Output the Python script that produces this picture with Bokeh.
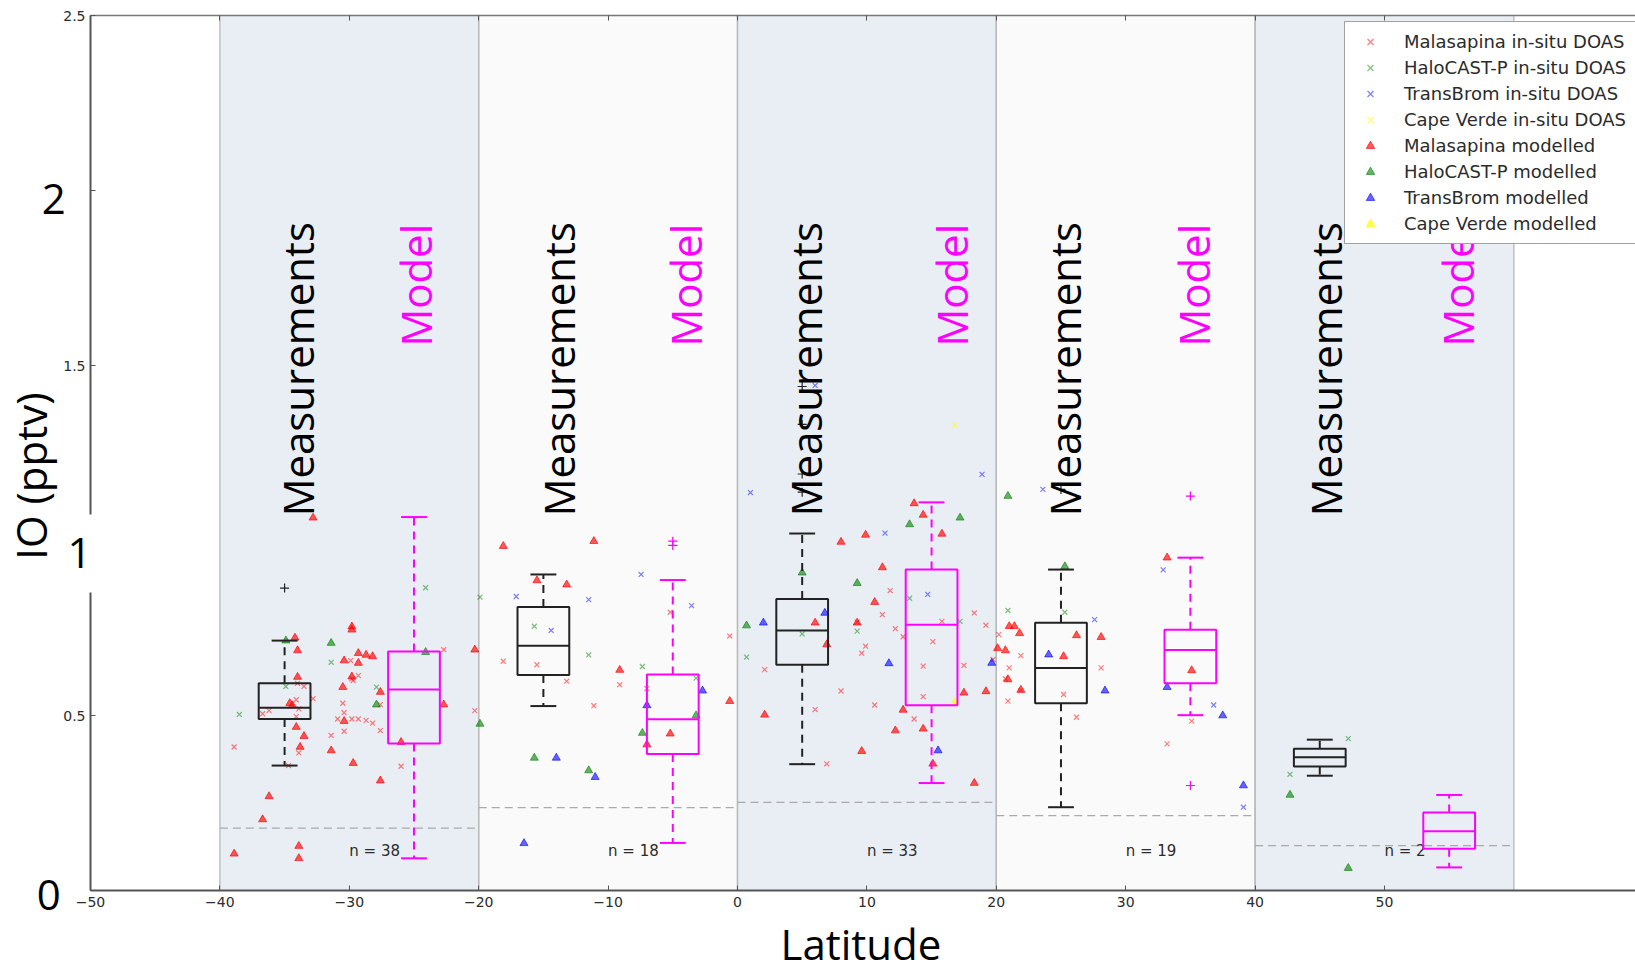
import math
from bokeh.plotting import figure
from bokeh.models import Range1d, LinearAxis, FixedTicker, Label, Legend, LegendItem
from bokeh.embed import file_html
from bokeh.resources import INLINE
from bokeh.core.properties import value

# ---------------- data ----------------
band_left = [-40, -20, 0, 20, 40]
band_right = [-20, 0, 20, 40, 60]
band_colors = ["#e9eef5", "#fafafa", "#e9eef5", "#fafafa", "#e9eef5"]
background_level = [0.178, 0.237, 0.252, 0.214, 0.128]
n_counts = [38, 18, 33, 19, 2]

x_ticks = [-50, -40, -30, -20, -10, 0, 10, 20, 30, 40, 50]
x_tick_labels = ["\u221250", "\u221240", "\u221230", "\u221220", "\u221210", "0", "10", "20", "30", "40", "50"]
y_label_ticks = [0.5, 1.5, 2.5]
y_minor_ticks = [0, 1, 2]

# measurement box plots
meas_pos = [-35, -15, 5, 25, 45]
meas_whislo = [0.357, 0.527, 0.361, 0.238, 0.328]
meas_q1 = [0.490, 0.616, 0.645, 0.535, 0.354]
meas_med = [0.522, 0.699, 0.743, 0.636, 0.381]
meas_q3 = [0.592, 0.810, 0.833, 0.765, 0.405]
meas_whishi = [0.714, 0.903, 1.020, 0.917, 0.431]
meas_flier_x = [-35, 5, 5, 5, 5, 25]
meas_flier_y = [0.864, 1.440, 1.332, 1.190, 1.138, 1.146]

# model box plots
model_pos = [-25, -5, 15, 35, 55]
model_whislo = [0.092, 0.136, 0.307, 0.501, 0.066]
model_q1 = [0.420, 0.390, 0.529, 0.592, 0.119]
model_med = [0.574, 0.489, 0.759, 0.687, 0.169]
model_q3 = [0.683, 0.617, 0.917, 0.745, 0.223]
model_whishi = [1.067, 0.887, 1.109, 0.951, 0.273]
model_flier_x = [-5, -5, 35, 35]
model_flier_y = [0.998, 0.986, 1.127, 0.300]

# Malaspina in-situ DOAS (red x)
mal_meas_x = [-38.9, -36.7, -36.2, -34.1, -33.9, -33.5, -34.0, -32.8, -34.1, -33.9,
              -34.7, -31.4, -30.5, -30.4, -30.9, -30.4, -29.9, -29.7, -29.3, -29.8,
              -29.3, -28.7, -28.2, -27.6, -27.6, -26.0, -22.7, -20.3, -29.8,
              -18.1, -15.5, -13.2, -11.1, -9.1, -7.0, -5.2, -0.6,
              2.1, 6.0, 6.9, 8.0, 9.25, 9.6, 9.9, 10.6, 11.2, 11.8, 12.2, 12.8, 13.65,
              14.35, 14.35, 15.1, 15.8, 17.5, 18.3, 19.2, 20.2,
              19.75, 21.0, 20.7, 21.9, 20.9, 21.9, 25.2, 26.2, 28.1, 33.2, 35.1]
mal_meas_y = [0.410, 0.505, 0.514, 0.545, 0.519, 0.583, 0.592, 0.548, 0.497, 0.393,
              0.357, 0.443, 0.535, 0.508, 0.490, 0.455, 0.657, 0.600, 0.614, 0.490,
              0.490, 0.486, 0.478, 0.457, 0.531, 0.355, 0.688, 0.514, 0.605,
              0.655, 0.645, 0.598, 0.528, 0.588, 0.577, 0.795, 0.727,
              0.631, 0.517, 0.362, 0.570, 0.767, 0.678, 0.698, 0.530, 0.788, 0.857, 0.748, 0.725, 0.490,
              0.641, 0.554, 0.711, 0.769, 0.643, 0.793, 0.758, 0.731,
              0.660, 0.636, 0.605, 0.671, 0.541, 0.571, 0.560, 0.495, 0.636, 0.419, 0.484]

# Malaspina modelled (red triangles)
mal_mod_x = [-32.8, -34.2, -34.0, -34.0, -34.6, -34.4, -34.1, -33.5, -33.8, -36.2,
             -36.7, -31.4, -30.5, -30.4, -29.8, -29.8, -29.3, -29.3, -28.7, -28.2,
             -29.8, -30.4, -29.7, -27.6, -27.6, -26.0, -22.7, -20.3, -38.9, -33.9, -33.9,
             -18.1, -11.1, -15.5, -13.2, -9.1, -5.2, -7.0, -0.6,
             2.1, 6.0, 6.9, 8.0, 9.25, 9.6, 9.9, 10.6, 11.2, 12.2, 12.8, 13.65, 14.35,
             14.35, 15.1, 15.8, 17.5, 18.3, 19.2,
             21.0, 21.4, 21.8, 20.1, 20.7, 20.9, 21.9, 26.2, 25.2, 28.1, 33.2, 35.1]
mal_mod_y = [1.065, 0.722, 0.686, 0.610, 0.535, 0.529, 0.467, 0.441, 0.410, 0.269,
             0.203, 0.400, 0.581, 0.657, 0.754, 0.745, 0.678, 0.650, 0.673, 0.669,
             0.611, 0.484, 0.364, 0.567, 0.314, 0.424, 0.531, 0.688, 0.105, 0.127, 0.092,
             0.984, 0.998, 0.886, 0.874, 0.630, 0.448, 0.417, 0.541,
             0.502, 0.765, 0.703, 0.996, 0.765, 0.398, 1.016, 0.824, 0.923, 0.457, 0.516, 1.106, 1.073,
             0.462, 0.362, 1.019, 0.565, 0.307, 0.569,
             0.755, 0.755, 0.735, 0.692, 0.686, 0.603, 0.573, 0.729, 0.669, 0.724, 0.951, 0.629]

# HaloCAST-P
halo_meas_x = [-38.5, -34.9, -31.4, -27.9, -24.1, -19.9, -15.7, -11.5, -7.35, -3.2,
               0.7, 5.0, 9.25, 13.3, 17.2, 20.9, 25.3, 42.7, 47.2]
halo_meas_y = [0.503, 0.583, 0.652, 0.581, 0.865, 0.838, 0.755, 0.673, 0.640, 0.607,
               0.667, 0.733, 0.741, 0.835, 0.769, 0.800, 0.795, 0.332, 0.434]
halo_mod_x = [-34.9, -31.4, -27.9, -24.1, -19.9, -15.7, -11.5, -7.35, -3.2,
              0.7, 5.0, 9.25, 13.3, 17.2, 20.9, 25.3, 42.7, 47.2]
halo_mod_y = [0.714, 0.707, 0.531, 0.681, 0.476, 0.379, 0.343, 0.450, 0.500,
              0.757, 0.908, 0.878, 1.046, 1.065, 1.127, 0.926, 0.273, 0.064]

# TransBrom
tb_meas_x = [-17.1, -14.4, -11.5, -7.45, -3.55, 1.0, 6.0, 11.4, 14.7, 18.9, 23.6, 27.6, 32.9, 36.8, 39.1]
tb_meas_y = [0.840, 0.743, 0.831, 0.903, 0.814, 1.137, 1.443, 1.021, 0.846, 1.189, 1.146, 0.774, 0.916, 0.530, 0.238]
tb_mod_x = [-16.5, -14.0, -11.0, -7.0, -2.7, 2.0, 6.75, 11.7, 15.5, 19.65, 24.05, 28.4, 33.2, 37.5, 39.1]
tb_mod_y = [0.135, 0.379, 0.324, 0.529, 0.571, 0.765, 0.793, 0.649, 0.400, 0.650, 0.674, 0.571, 0.581, 0.500, 0.300]

# Cape Verde
cv_meas_x = [16.8]
cv_meas_y = [1.33]
cv_mod_x = [16.8]
cv_mod_y = [0.538]

# overlay label anchor positions (annotations)
meas_label_x = [-34.02, -13.86, 5.29, 25.31, 45.44]
model_label_x = [-24.88, -3.98, 16.56, 35.25, 55.64]

# ---------------- figure ----------------
# the frame fills the whole canvas; axes are pinned with fixed_location
p = figure(width=1635, height=973, x_range=Range1d(-56.955, 69.40), y_range=Range1d(-0.2371, 2.5429),
           output_backend="svg", toolbar_location=None,
           min_border_left=0, min_border_right=0, min_border_top=0, min_border_bottom=0,
           background_fill_color="white", border_fill_color="white", outline_line_color=None)
p.grid.visible = False

AX = "#555555"
TXT = "#2b2b2b"

xa = p.xaxis[0]
xa.fixed_location = 0
xa.bounds = (-50, 69.4)
xa.ticker = FixedTicker(ticks=x_ticks)
xa.major_label_overrides = {t: s for t, s in zip(x_ticks, x_tick_labels)}
xa.axis_line_color = AX
xa.axis_line_width = 2
xa.major_tick_in = 5
xa.major_tick_out = 0
xa.major_tick_line_color = AX
xa.minor_tick_line_color = None
xa.major_label_text_font = "DejaVu Sans"
xa.major_label_text_font_size = "14px"
xa.major_label_text_color = TXT
xa.major_label_standoff = 6

ya = p.yaxis[0]
ya.fixed_location = -50
ya.bounds = (0, 2.5)
ya.ticker = FixedTicker(ticks=y_label_ticks, minor_ticks=y_minor_ticks)
ya.axis_line_color = AX
ya.axis_line_width = 2
ya.major_tick_in = 5
ya.major_tick_out = 0
ya.minor_tick_in = 5
ya.minor_tick_out = 0
ya.major_tick_line_color = AX
ya.minor_tick_line_color = AX
ya.major_label_text_font = "DejaVu Sans"
ya.major_label_text_font_size = "14px"
ya.major_label_text_color = TXT
ya.major_label_standoff = 5

top_axis = LinearAxis(ticker=FixedTicker(ticks=x_ticks), fixed_location=2.5, bounds=(-50, 69.4),
                      axis_line_color="#777777", axis_line_width=1.5,
                      major_tick_in=5, major_tick_out=0, major_tick_line_color=AX,
                      minor_tick_line_color=None, major_label_text_color=None)
p.add_layout(top_axis, "above")

# bands
p.quad(left=band_left, right=band_right, bottom=0, top=2.5, fill_color=band_colors, line_color=None)
p.segment(x0=band_left, x1=band_left, y0=0, y1=2.5, line_color="#b8b8b8", line_width=1.3)
p.segment(x0=band_right, x1=band_right, y0=0, y1=2.5, line_color="#b8b8b8", line_width=1.3)
p.segment(x0=band_left, x1=band_right, y0=background_level, y1=background_level,
          line_color="#aaaaaa", line_width=1.3, line_dash="8 5")

# n labels
p.text(x=[b + 10 for b in band_left], y=[0.113] * len(band_left), text=["n = %d" % n for n in n_counts],
       text_font=value("DejaVu Sans"), text_font_size="15px", text_color=TXT,
       text_align="left", text_baseline="alphabetic")

# scatter points
XS, TS = 7, 8
r_mal_meas = p.scatter(mal_meas_x, mal_meas_y, marker="x", size=XS, line_color="#ff0000", line_alpha=0.5, line_width=1.2)
r_halo_meas = p.scatter(halo_meas_x, halo_meas_y, marker="x", size=XS, line_color="#008000", line_alpha=0.5, line_width=1.2)
r_tb_meas = p.scatter(tb_meas_x, tb_meas_y, marker="x", size=XS, line_color="#0000ff", line_alpha=0.5, line_width=1.2)
r_cv_meas = p.scatter(cv_meas_x, cv_meas_y, marker="x", size=XS, line_color="#ffff00", line_alpha=0.6, line_width=1.2)
r_mal_mod = p.scatter(mal_mod_x, mal_mod_y, marker="triangle", size=TS, fill_color="#ff0000", fill_alpha=0.65,
                      line_color="#ff0000", line_alpha=0.65)
r_halo_mod = p.scatter(halo_mod_x, halo_mod_y, marker="triangle", size=TS, fill_color="#008000", fill_alpha=0.6,
                       line_color="#008000", line_alpha=0.6)
r_tb_mod = p.scatter(tb_mod_x, tb_mod_y, marker="triangle", size=TS, fill_color="#0000ff", fill_alpha=0.6,
                     line_color="#0000ff", line_alpha=0.6)
r_cv_mod = p.scatter(cv_mod_x, cv_mod_y, marker="triangle", size=TS, fill_color="#ffff00", fill_alpha=0.7,
                     line_color="#ffff00", line_alpha=0.7)


def boxplot(pos, lo, q1, med, q3, hi, fx, fy, color):
    half, cap = 2.0, 1.0
    p.segment(x0=pos, x1=pos, y0=q3, y1=hi, line_color=color, line_width=2, line_dash="8 6")
    p.segment(x0=pos, x1=pos, y0=q1, y1=lo, line_color=color, line_width=2, line_dash="8 6")
    p.segment(x0=[x - cap for x in pos], x1=[x + cap for x in pos], y0=hi, y1=hi, line_color=color, line_width=2)
    p.segment(x0=[x - cap for x in pos], x1=[x + cap for x in pos], y0=lo, y1=lo, line_color=color, line_width=2)
    p.quad(left=[x - half for x in pos], right=[x + half for x in pos], bottom=q1, top=q3,
           fill_color=None, line_color=color, line_width=2)
    p.segment(x0=[x - half for x in pos], x1=[x + half for x in pos], y0=med, y1=med, line_color=color, line_width=2)
    p.scatter(fx, fy, marker="cross", size=9, line_color=color, line_width=1.2)


boxplot(meas_pos, meas_whislo, meas_q1, meas_med, meas_q3, meas_whishi, meas_flier_x, meas_flier_y, "#222222")
boxplot(model_pos, model_whislo, model_q1, model_med, model_q3, model_whishi, model_flier_x, model_flier_y, "#ff00ff")

# legend
legend = Legend(items=[
    LegendItem(label="Malasapina in-situ DOAS", renderers=[r_mal_meas]),
    LegendItem(label="HaloCAST-P in-situ DOAS", renderers=[r_halo_meas]),
    LegendItem(label="TransBrom in-situ DOAS", renderers=[r_tb_meas]),
    LegendItem(label="Cape Verde in-situ DOAS", renderers=[r_cv_meas]),
    LegendItem(label="Malasapina modelled", renderers=[r_mal_mod]),
    LegendItem(label="HaloCAST-P modelled", renderers=[r_halo_mod]),
    LegendItem(label="TransBrom modelled", renderers=[r_tb_mod]),
    LegendItem(label="Cape Verde modelled", renderers=[r_cv_mod]),
], location=(1344, 729), margin=0, padding=9, spacing=5, label_height=21, glyph_height=21,
    glyph_width=32, label_standoff=18, label_text_font="DejaVu Sans", label_text_font_size="18px",
    label_text_color=TXT, border_line_color="#444444", border_line_width=1,
    background_fill_color="white", background_fill_alpha=1.0)
p.add_layout(legend)

# overlay vertical labels
p.text(x=meas_label_x, y=[1.069] * len(meas_label_x), text=["Measurements"] * len(meas_label_x),
       angle=math.pi / 2, text_font=value("Open Sans"), text_font_size="42px", text_color="black",
       text_align="left", text_baseline="alphabetic", level="overlay")
p.text(x=model_label_x, y=[1.554] * len(model_label_x), text=["Model"] * len(model_label_x),
       angle=math.pi / 2, text_font=value("Open Sans"), text_font_size="42px", text_color="#ff00ff",
       text_align="left", text_baseline="alphabetic", level="overlay")

# big axis annotations
BIG = dict(text_font="Open Sans", text_font_size="42px", text_color="black")
p.add_layout(Label(x=-52.84, y=1.975, text="2", text_align="center", text_baseline="alphabetic", **BIG))
p.add_layout(Label(x=-50.85, y=0.963, text="1", text_align="center", text_baseline="alphabetic",
                   background_fill_color="white", padding=24, **BIG))
p.add_layout(Label(x=-53.22, y=-0.012, text="0", text_align="center", text_baseline="alphabetic", **BIG))
p.add_layout(Label(x=-54.63, y=1.184, text="IO (pptv)", angle=math.pi / 2, text_align="center",
                   text_baseline="alphabetic", **BIG))
p.add_layout(Label(x=9.54, y=-0.151, text="Latitude", text_align="center", text_baseline="alphabetic", **BIG))

open("out.html", "w").write(file_html(p, INLINE))
